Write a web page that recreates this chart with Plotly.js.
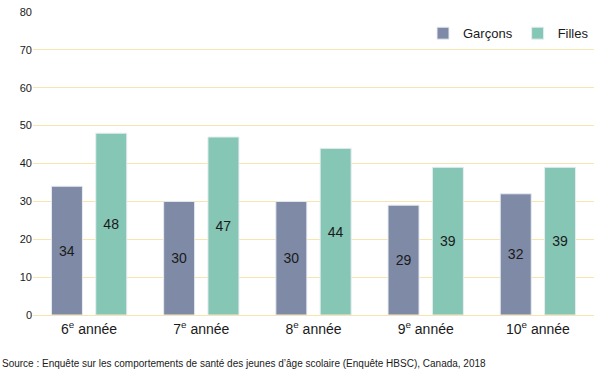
<!DOCTYPE html>
<html><head><meta charset="utf-8">
<script src="https://cdn.plot.ly/plotly-3.0.1.min.js"></script>
<style>body{margin:0}#c{width:600px;height:372px}</style>
</head><body><div id="c"></div>
<script>
const categories = ["6<sup>e</sup> année","7<sup>e</sup> année","8<sup>e</sup> année","9<sup>e</sup> année","10<sup>e</sup> année"];
const garcons = [34,30,30,29,32];
const filles = [48,47,44,39,39];
const yTicks = [0,10,20,30,40,50,60,70,80];
const source = "Source : Enquête sur les comportements de santé des jeunes d’âge scolaire (Enquête HBSC), Canada, 2018";

const mk = (name, y, color) => ({
  type:'bar', name, x:categories, y,
  marker:{color, line:{color:'#e8ecf2', width:1}},
  text:y.map(String), textposition:'inside', insidetextanchor:'middle',
  textfont:{color:'#1a1a1a', size:14, family:'Liberation Sans, Arial'},
  hoverinfo:'none'
});
const data = [mk('Garçons', garcons, '#7f8ba6'), mk('Filles', filles, '#85c6b5')];
const layout = {
  width:600, height:372,
  margin:{l:33, r:6, t:12, b:57},
  font:{family:'Liberation Sans, Arial', color:'#1a1a1a'},
  paper_bgcolor:'#fff', plot_bgcolor:'#fff',
  bargap:0.21, bargroupgap:0.3,
  xaxis:{tickfont:{size:14}, showgrid:false, zeroline:false, showline:false, ticks:'', ticklabelstandoff:4},
  yaxis:{range:[0,80], tickvals:yTicks, tickfont:{size:11}, gridcolor:'#f8e4ad', gridwidth:1,
         zeroline:true, zerolinecolor:'#f8e4ad', zerolinewidth:1, ticks:'', ticklen:0},
  legend:{orientation:'h', x:1, xanchor:'right', y:0.93, yanchor:'middle',
          font:{size:13}, bgcolor:'rgba(255,255,255,0)', traceorder:'normal'},
  annotations:[{text:source, xref:'paper', yref:'paper', x:0, xanchor:'left', xshift:-33,
                y:0, yanchor:'middle', yshift:-48, showarrow:false, font:{size:10}}]
};
Plotly.newPlot('c', data, layout, {displayModeBar:false, staticPlot:true});
</script></body></html>
